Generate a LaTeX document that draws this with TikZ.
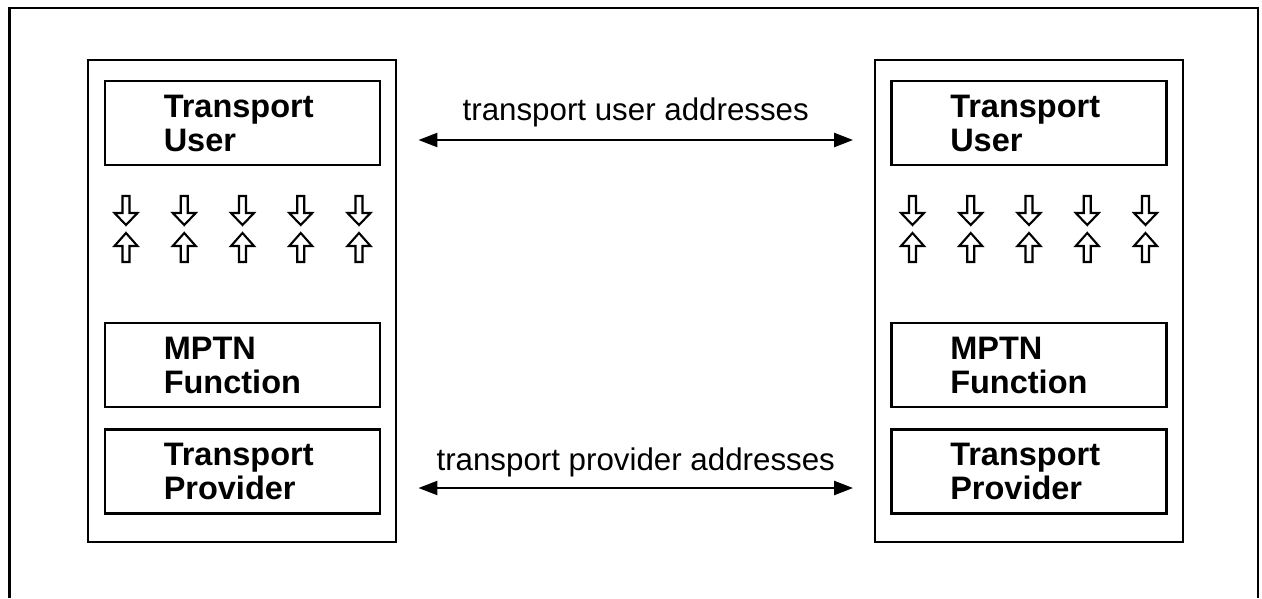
\documentclass[tikz,border=0pt]{standalone}
\usepackage{fontspec}
\setmainfont{Liberation Sans}
\usetikzlibrary{arrows.meta}

\tikzset{
  frame/.style={line width=2.8pt},
  sysbox/.style={draw, line width=2.4pt, minimum width=308pt, minimum height=482pt, inner sep=0pt},
  layer/.style={draw, line width=2.9pt, minimum width=275pt, minimum height=84pt, inner sep=0pt},
  layertext/.style={font=\bfseries\fontsize{32.5}{34}\selectfont, align=left, inner sep=0pt, anchor=west},
  addr/.style={font=\fontsize{31.3}{36}\selectfont, inner sep=0pt, anchor=base},
  dbl/.style={{Triangle[length=19pt,width=14pt]}-{Triangle[length=19pt,width=14pt]}, line width=2.4pt},
  hollow/.style={draw, line width=2.1pt, fill=white, line join=miter},
  downarr/.pic={\draw[hollow] (-3.5,196) -- (3.5,196) -- (3.5,213) -- (11.5,213)
                 -- (0,225) -- (-11.5,213) -- (-3.5,213) -- cycle;},
  uparr/.pic={\draw[hollow] (-3.5,262) -- (3.5,262) -- (3.5,246) -- (11.5,246)
                 -- (0,233) -- (-11.5,246) -- (-3.5,246) -- cycle;},
}

\begin{document}
\begin{tikzpicture}[x=1pt, y=-1pt]
  \useasboundingbox (0,0) rectangle (1262,598);

  % surrounding frame, open at the bottom
  \draw[frame] (9.5,598) -- (9.5,8) -- (1258,8) -- (1258,598);

  % the two end systems
  \node[sysbox] (sysL) at (242,301) {};
  \node[sysbox] (sysR) at (1029,301) {};

  % layers of the left system
  \node[layer] (tuL) at (242.5,123) {};
  \node[layer] (mpL) at (242.5,365) {};
  \node[layer] (tpL) at (242.5,471.5) {};
  \node[layertext] (tuLt) at ([xshift=60pt]tuL.west) {Transport\\User};
  \node[layertext] (mpLt) at ([xshift=60pt]mpL.west) {MPTN\\Function};
  \node[layertext] (tpLt) at ([xshift=60pt]tpL.west) {Transport\\Provider};

  % layers of the right system
  \node[layer] (tuR) at (1029,123) {};
  \node[layer] (mpR) at (1029,365) {};
  \node[layer] (tpR) at (1029,471.5) {};
  \node[layertext] (tuRt) at ([xshift=60pt]tuR.west) {Transport\\User};
  \node[layertext] (mpRt) at ([xshift=60pt]mpR.west) {MPTN\\Function};
  \node[layertext] (tpRt) at ([xshift=60pt]tpR.west) {Transport\\Provider};

  % hollow interface arrows below the transport user
  \foreach \c in {126,184.25,242.5,300.75,359,912.5,970.75,1029,1087.25,1145.5} {
    \pic at (\c,0) {downarr};
    \pic at (\c,0) {uparr};
  }

  % address exchanges between peers
  \draw[dbl, shorten <=37pt, shorten >=37pt]
    ([yshift=-17pt]tuL.east) -- ([yshift=-17pt]tuR.west)
    node[addr, midway, yshift=20pt] (ua) {transport user addresses};
  \draw[dbl, shorten <=37pt, shorten >=37pt]
    ([yshift=-16.5pt]tpL.east) -- ([yshift=-16.5pt]tpR.west)
    node[addr, midway, yshift=18pt] (pa) {transport provider addresses};
\end{tikzpicture}
\end{document}
